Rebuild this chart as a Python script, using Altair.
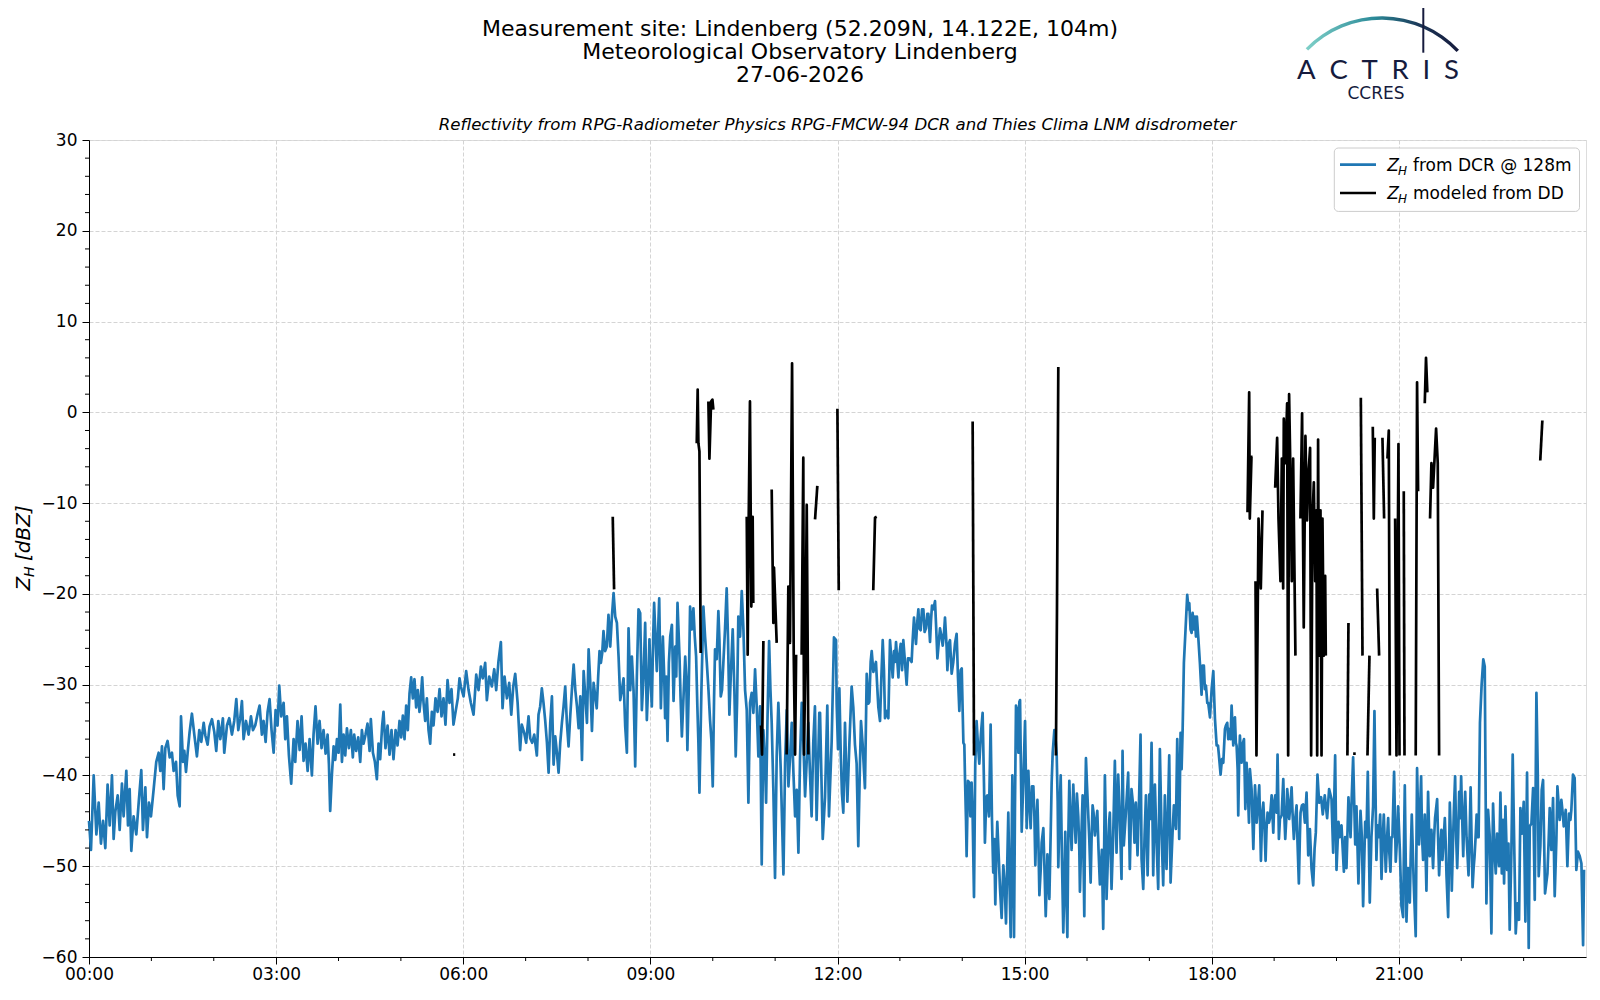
import altair as alt
import pandas as pd

# ---------------- data (minutes since 00:00, dBZ) ----------------
dcr_00_06 = [(0.0,-45.0),(1.9,-48.2),(4.5,-40.0),(7.1,-46.5),(9.3,-43.0),(11.5,-47.5),(13.5,-45.0),(15.7,-48.0),(17.9,-41.0),(19.9,-45.5),(22.1,-40.0),(23.7,-47.0),(25.3,-44.0),(27.6,-42.2),(29.5,-46.0),(31.7,-40.9),(33.3,-44.5),(35.9,-39.5),(37.5,-45.5),(39.1,-41.5),(40.7,-48.3),(42.9,-44.5),(45.5,-46.5),(47.8,-43.0),(50.3,-39.4),(51.9,-46.0),(54.2,-41.3),(55.8,-46.8),(57.7,-43.0),(59.6,-44.5),(62.2,-41.5),(64.7,-38.5),(67.0,-37.5),(68.6,-39.5),(70.2,-36.8),(71.8,-41.5),(73.4,-37.0),(75.6,-36.2),(77.6,-38.0),(79.8,-37.5),(81.4,-39.5),(83.7,-38.5),(85.3,-42.2),(87.2,-43.4),(88.5,-33.5),(90.4,-38.5),(91.7,-37.3),(93.3,-39.6),(94.9,-37.5),(96.8,-35.2),(99.0,-33.2),(101.3,-35.5),(103.8,-37.9),(106.1,-35.0),(108.0,-36.3),(110.3,-34.2),(111.9,-35.6),(114.1,-36.6),(116.0,-34.6),(118.3,-33.8),(120.5,-35.2),(122.4,-37.3),(124.4,-34.0),(126.3,-36.0),(128.8,-33.7),(130.1,-37.5),(132.7,-34.5),(134.9,-33.7),(137.5,-35.5),(139.7,-34.0),(141.7,-31.6),(143.6,-35.0),(145.5,-33.7),(147.1,-31.8),(148.7,-36.0),(151.0,-34.0),(153.5,-35.5),(155.8,-33.5),(157.7,-35.0),(159.9,-34.5),(162.2,-33.2),(164.1,-32.3),(166.3,-35.5),(167.9,-34.0),(169.9,-36.3),(171.8,-33.0),(173.7,-31.6),(175.6,-35.0),(177.6,-37.5),(179.5,-32.8),(181.4,-34.5),(183.0,-30.1),(184.9,-33.5),(187.2,-32.0),(188.8,-36.0),(190.4,-33.5),(192.3,-37.8),(194.5,-40.9),(196.8,-36.0),(198.4,-38.5),(200.6,-34.0),(202.6,-37.2),(204.5,-33.5),(206.4,-38.4),(208.3,-36.5),(210.3,-39.5),(212.2,-36.0),(214.4,-40.0),(216.0,-35.5),(217.9,-32.4),(219.9,-36.5),(221.8,-34.0),(223.7,-37.0),(225.6,-35.0),(227.6,-37.6),(229.5,-35.5),(230.8,-38.8),(232.0,-43.9),(233.6,-40.0),(235.3,-36.8),(236.9,-38.3),(238.5,-36.0),(240.1,-37.5),(241.7,-32.2),(243.3,-38.5),(244.9,-35.5),(246.5,-37.8),(248.1,-34.8),(250.0,-37.0),(251.9,-35.0),(253.8,-38.0),(255.1,-35.5),(257.0,-37.3),(259.0,-35.8),(260.9,-38.5),(262.5,-35.0),(264.1,-36.5),(266.0,-35.5),(267.9,-34.3),(269.9,-37.3),(271.1,-33.8),(273.1,-37.5),(275.0,-38.5),(276.9,-40.4),(278.5,-36.5),(280.1,-38.2),(282.0,-34.5),(283.3,-33.0),(285.2,-37.0),(287.2,-34.5),(289.1,-37.7),(291.0,-35.0),(292.9,-38.2),(294.9,-35.0),(296.8,-36.7),(298.7,-34.0),(300.3,-35.8),(301.9,-33.4),(303.5,-36.0),(305.1,-32.3),(306.7,-35.0),(308.3,-31.0),(309.9,-29.2),(311.5,-31.5),(313.1,-29.4),(314.7,-32.5),(316.3,-30.6),(317.9,-33.0),(319.2,-31.5),(320.5,-29.2),(321.8,-32.0),(323.4,-34.0),(325.0,-31.5),(326.6,-35.0),(328.2,-36.5),(329.8,-33.0),(331.4,-34.5),(333.3,-31.5),(335.3,-33.0),(337.2,-30.5),(339.1,-33.5),(341.0,-31.5),(342.9,-34.4),(344.9,-29.5),(346.8,-32.0),(348.7,-30.5),(350.6,-34.4),(352.6,-33.0),(354.8,-31.5),(356.4,-29.3)]

dcr_06_12 = [(357.7,-30.2),(360.3,-31.3),(362.8,-28.5),(365.1,-30.6),(367.3,-32.0),(369.9,-33.3),(372.5,-28.9),(374.7,-30.6),(377.0,-28.0),(378.8,-29.3),(381.1,-27.6),(382.7,-31.7),(385.0,-29.1),(387.5,-30.2),(389.8,-28.3),(391.7,-30.6),(393.9,-27.4),(396.2,-25.3),(397.8,-32.6),(399.7,-29.1),(402.0,-31.5),(404.2,-29.8),(406.2,-33.3),(408.1,-30.2),(410.0,-28.8),(412.3,-32.0),(414.7,-37.2),(416.3,-34.4),(418.6,-35.3),(420.5,-36.4),(422.8,-33.5),(424.4,-35.9),(426.3,-36.4),(428.3,-35.5),(430.8,-37.8),(432.4,-33.3),(434.0,-32.4),(435.6,-30.4),(437.2,-32.0),(438.8,-33.9),(440.5,-36.4),(442.1,-39.7),(443.7,-34.2),(445.3,-31.3),(446.9,-38.8),(448.5,-35.7),(450.1,-37.5),(451.7,-39.7),(453.3,-36.4),(454.9,-34.2),(456.5,-32.4),(458.1,-30.2),(459.7,-34.2),(461.3,-36.8),(462.9,-33.5),(464.5,-30.6),(466.2,-27.8),(467.8,-30.6),(469.4,-32.4),(471.0,-34.8),(472.6,-31.3),(474.2,-38.3),(475.8,-28.5),(477.4,-31.3),(479.0,-34.2),(480.6,-26.1),(482.2,-29.8),(483.8,-35.1),(485.4,-29.8),(487.0,-31.3),(488.4,-32.6),(489.8,-29.1),(491.1,-26.3),(492.4,-27.6),(493.7,-26.5),(494.9,-24.1),(496.5,-26.3),(498.1,-25.8),(499.7,-22.3),(501.4,-25.8),(503.0,-22.5),(504.6,-19.9),(506.2,-22.5),(507.8,-23.2),(509.4,-26.9),(511.0,-31.7),(512.6,-30.6),(514.2,-29.3),(515.8,-34.6),(517.4,-37.5),(519.0,-23.8),(520.6,-30.6),(522.2,-26.9),(523.8,-30.6),(525.4,-39.0),(527.0,-29.1),(528.6,-21.7),(530.2,-22.1),(531.8,-32.8),(533.4,-29.1),(535.0,-23.2),(536.6,-33.9),(538.2,-29.1),(539.1,-25.0),(540.4,-29.8),(541.4,-32.4),(542.7,-24.7),(543.6,-21.0),(544.9,-24.7),(546.2,-28.5),(547.5,-23.9),(548.5,-20.5),(550.1,-32.6),(552.0,-24.7),(553.3,-29.1),(554.2,-33.7),(555.2,-29.1),(556.5,-36.2),(557.8,-27.6),(559.1,-24.7),(560.7,-23.4),(562.3,-31.8),(563.9,-25.8),(564.9,-29.1),(566.1,-21.0),(568.1,-27.2),(569.0,-31.3),(570.3,-35.7),(571.9,-31.3),(573.5,-26.9),(574.5,-29.1),(575.6,-37.2),(576.9,-30.6),(578.2,-21.4),(579.8,-23.9),(581.4,-21.6),(582.7,-24.7),(584.0,-26.9),(585.2,-32.4),(586.2,-36.4),(587.2,-41.9),(589.1,-30.6),(591.0,-21.4),(592.6,-24.7),(594.3,-27.6),(595.9,-30.6),(597.4,-33.9),(598.7,-36.1),(600.0,-41.2),(601.3,-31.3),(602.2,-26.1),(603.8,-27.2),(605.4,-21.9),(606.4,-25.0),(607.7,-31.3),(608.9,-30.6),(610.2,-27.6),(611.8,-23.9),(613.4,-19.4),(614.7,-25.0),(616.0,-33.3),(617.3,-29.1),(619.2,-23.9),(620.8,-30.6),(622.1,-37.9),(623.4,-32.0),(624.6,-22.5),(626.3,-24.7),(627.9,-19.7),(629.5,-23.9),(631.1,-30.6),(632.7,-32.8),(634.3,-43.0),(635.9,-32.0),(637.5,-30.9),(639.1,-33.1),(640.7,-28.3),(642.3,-32.4),(643.9,-37.9),(645.5,-32.4),(647.1,-49.8),(648.7,-35.0),(650.3,-38.6),(651.3,-43.0),(652.6,-34.2),(654.2,-25.2),(655.5,-30.6),(656.7,-34.2),(658.3,-41.6),(659.9,-51.3),(661.5,-37.9),(663.1,-32.0),(664.1,-35.0),(665.4,-39.4),(666.7,-45.2),(668.0,-50.9),(669.6,-38.6),(671.2,-32.8),(672.8,-41.2),(674.4,-37.9),(676.0,-34.2),(677.6,-39.7),(679.2,-44.5),(680.8,-41.6),(682.4,-48.5),(684.0,-37.9),(685.6,-32.0),(687.2,-36.4),(688.8,-42.3),(690.3,-38.6),(691.9,-34.2),(693.5,-39.7),(695.1,-44.5),(696.7,-36.4),(698.3,-32.4),(699.9,-44.9),(701.5,-37.9),(702.5,-33.1)]

dcr_12_16 = [(703.2,-33.1),(705.8,-47.0),(708.0,-42.4),(710.2,-32.3),(711.8,-44.5),(714.4,-36.2),(716.6,-24.8),(718.6,-25.1),(719.2,-32.1),(720.5,-37.1),(721.8,-30.4),(723.1,-37.5),(724.3,-42.0),(725.6,-44.1),(727.2,-34.2),(728.2,-38.7),(729.5,-42.9),(731.4,-36.6),(733.6,-30.2),(735.2,-32.5),(736.8,-36.6),(738.4,-38.7),(740.0,-47.8),(741.6,-38.7),(742.6,-34.0),(744.2,-36.6),(745.5,-39.5),(746.4,-41.4),(748.1,-28.8),(749.7,-32.1),(750.6,-31.9),(751.9,-27.5),(752.9,-26.3),(754.5,-28.6),(755.8,-28.0),(757.0,-27.5),(758.3,-30.4),(759.3,-32.5),(760.9,-34.0),(762.2,-29.2),(763.5,-25.1),(764.7,-28.4),(765.7,-33.7),(767.3,-32.9),(768.9,-33.7),(769.9,-28.4),(770.5,-25.1),(771.8,-27.1),(773.1,-29.2),(774.4,-26.3),(775.3,-27.5),(776.3,-25.3),(777.6,-27.5),(778.6,-29.2),(779.5,-26.7),(780.8,-25.5),(782.1,-28.4),(783.3,-25.1),(784.9,-27.5),(786.5,-30.0),(787.8,-27.1),(789.1,-27.1),(791.3,-27.5),(792.3,-25.1),(793.6,-22.6),(794.5,-24.2),(795.5,-25.5),(796.8,-23.0),(797.8,-21.7),(798.7,-23.8),(800.0,-24.0),(801.3,-21.7),(802.6,-21.7),(803.8,-24.2),(805.1,-23.8),(806.4,-22.2),(807.4,-22.2),(809.0,-25.3),(809.9,-23.0),(810.9,-21.3),(812.2,-21.7),(813.8,-20.8),(814.8,-23.4),(816.1,-27.1),(817.3,-25.5),(818.6,-23.8),(819.9,-24.6),(821.2,-25.7),(822.5,-24.2),(823.4,-22.6),(825.0,-25.9),(825.7,-28.4),(827.0,-25.5),(828.2,-25.1),(829.8,-28.8),(831.4,-27.5),(833.0,-25.5),(834.6,-24.4),(835.9,-29.2),(837.2,-32.9),(838.5,-28.4),(839.5,-28.2),(840.4,-32.9),(841.1,-36.4),(842.0,-36.6),(842.7,-40.6),(843.6,-44.9),(844.2,-48.9),(845.5,-40.6),(846.8,-40.8),(847.8,-44.5),(849.0,-40.8),(850.0,-44.5),(851.3,-53.4),(852.5,-38.7),(853.8,-34.0),(855.1,-36.6),(856.4,-38.7),(858.0,-35.4),(859.6,-33.1),(860.9,-40.8),(861.8,-47.4),(863.1,-42.4),(864.1,-42.2),(865.7,-44.5),(867.3,-34.4),(868.6,-44.9),(869.8,-50.7),(870.8,-47.0),(871.8,-54.2),(872.7,-49.1),(873.7,-45.1),(875.0,-48.7),(876.3,-52.4),(877.9,-55.7),(879.5,-49.9),(880.8,-52.0),(882.1,-56.3),(883.4,-49.1),(884.3,-44.1),(885.3,-51.1),(886.6,-57.8),(888.2,-40.0),(889.8,-57.8),(890.7,-43.7),(891.7,-32.3),(893.0,-32.9),(894.0,-37.5),(894.9,-31.9),(895.6,-31.7),(897.2,-46.2),(898.8,-40.4),(900.4,-34.0),(902.0,-45.8),(903.6,-39.5),(904.6,-42.9),(905.8,-45.8),(907.1,-41.2),(908.4,-41.2),(909.4,-44.5),(910.3,-49.9),(911.3,-45.3),(912.3,-42.7),(913.2,-47.0),(914.2,-53.2),(915.5,-50.3),(916.4,-47.4),(918.0,-45.8),(919.3,-51.1),(920.3,-55.5),(921.2,-52.0),(921.9,-48.7),(922.8,-51.1),(923.8,-53.6),(925.1,-46.2),(926.0,-40.8),(927.0,-37.5),(928.6,-35.0),(929.9,-36.2),(930.8,-37.5),(931.8,-42.9),(932.4,-50.1),(933.4,-44.9),(934.7,-40.0),(935.9,-49.1),(937.2,-57.3),(938.2,-52.0),(939.1,-46.2),(940.1,-53.2),(941.1,-57.8),(942.0,-47.0),(943.0,-40.6),(944.0,-44.9),(945.2,-48.2),(946.8,-41.0),(947.8,-44.1),(949.1,-47.4),(950.3,-42.0),(951.6,-44.5),(952.6,-48.2),(953.2,-52.8),(954.5,-47.0),(955.8,-42.2),(956.4,-47.0),(957.4,-55.5),(958.3,-42.9),(959.0,-38.1),(959.9,-40.8),(960.9,-43.5),(962.2,-47.0),(963.5,-51.8),(964.4,-47.0),(965.4,-43.3),(966.3,-44.1),(967.6,-46.6),(968.6,-45.3),(969.9,-43.9),(971.1,-48.2),(972.4,-52.0),(973.4,-50.3),(974.3,-48.2),(975.6,-56.9),(976.6,-47.0),(977.2,-40.0),(978.2,-46.2),(978.8,-53.6),(980.1,-49.1),(981.4,-44.9)]

dcr_16_20 = [(982.0,-44.1),(983.6,-52.5),(985.2,-46.6),(986.8,-38.4),(988.4,-48.5),(990.0,-39.9),(991.6,-44.8),(993.2,-51.4),(994.2,-37.3),(995.4,-47.7),(997.4,-44.1),(999.6,-39.7),(1001.2,-50.3),(1002.8,-41.5),(1004.4,-43.3),(1005.7,-47.4),(1007.0,-43.0),(1008.6,-48.8),(1010.2,-42.1),(1011.5,-35.5),(1012.5,-49.2),(1014.1,-52.5),(1015.4,-46.6),(1016.7,-42.2),(1018.3,-51.0),(1019.9,-42.1),(1020.8,-44.8),(1022.1,-36.4),(1023.7,-51.0),(1025.3,-41.0),(1026.9,-47.4),(1028.5,-52.5),(1030.1,-37.1),(1031.7,-46.3),(1033.3,-52.1),(1034.9,-42.2),(1036.5,-50.3),(1038.1,-43.0),(1039.1,-37.8),(1040.4,-51.8),(1042.3,-46.3),(1043.6,-43.3),(1045.5,-45.9),(1046.8,-36.0),(1047.8,-41.1),(1048.7,-47.0),(1050.0,-35.3),(1051.0,-39.3),(1052.0,-34.9),(1053.2,-27.6),(1054.8,-23.9),(1056.4,-20.1),(1057.7,-21.7),(1058.4,-21.0),(1059.6,-23.9),(1060.6,-24.3),(1061.6,-22.1),(1062.8,-23.9),(1063.8,-22.5),(1064.8,-24.7),(1065.7,-22.5),(1067.0,-24.7),(1068.6,-27.6),(1070.2,-31.1),(1071.2,-27.9),(1072.4,-27.9),(1073.4,-30.5),(1074.4,-30.1),(1075.7,-32.0),(1076.6,-32.0),(1078.3,-33.6),(1079.9,-30.5),(1081.5,-28.5),(1082.4,-31.6),(1083.1,-33.8),(1084.7,-36.7),(1086.0,-36.7),(1086.9,-37.8),(1088.5,-39.9),(1089.8,-38.2),(1091.1,-38.6),(1092.7,-34.9),(1093.6,-34.5),(1094.9,-34.2),(1095.9,-36.0),(1096.8,-34.9),(1098.1,-36.0),(1099.1,-32.3),(1100.0,-34.9),(1100.7,-36.7),(1101.6,-33.8),(1102.3,-33.6),(1103.2,-36.4),(1103.9,-36.7),(1104.9,-39.3),(1105.5,-44.4),(1106.5,-37.5),(1107.1,-35.6),(1108.1,-37.8),(1108.7,-38.6),(1110.0,-36.4),(1111.0,-36.0),(1112.3,-43.7),(1113.5,-38.6),(1114.5,-41.1),(1115.8,-45.2),(1116.7,-39.3),(1118.3,-41.5),(1120.0,-48.1),(1121.6,-41.1),(1122.5,-43.0),(1123.2,-45.2),(1124.4,-43.3),(1125.7,-41.1),(1127.3,-49.4),(1128.6,-44.1),(1129.6,-43.0),(1130.8,-45.9),(1131.8,-49.4),(1132.7,-45.9),(1133.7,-44.1),(1135.0,-45.2),(1135.9,-44.8),(1137.6,-42.2),(1139.2,-46.3),(1140.1,-43.0),(1141.1,-42.2),(1142.4,-44.1),(1143.3,-37.7),(1144.6,-47.0),(1145.6,-44.8),(1147.2,-44.4),(1148.8,-40.4),(1149.8,-44.4),(1150.7,-47.0),(1152.0,-44.1),(1152.6,-41.5),(1153.6,-43.0),(1154.5,-44.8),(1155.8,-43.0),(1156.8,-41.3),(1157.7,-44.1),(1159.0,-47.0),(1160.3,-44.8),(1161.6,-43.3),(1162.5,-47.4),(1163.8,-51.9),(1164.8,-46.6),(1165.4,-44.1),(1166.7,-43.3),(1168.0,-43.2),(1169.6,-45.2),(1171.2,-41.9),(1172.8,-48.8),(1174.4,-45.9),(1176.0,-50.3),(1177.6,-52.1),(1178.9,-48.1),(1180.1,-46.3),(1181.7,-39.9),(1183.3,-43.0)]

dcr_20_24 = [(1185.2,-42.4),(1186.8,-44.3),(1188.7,-42.2),(1191.0,-44.7),(1192.9,-41.5),(1195.2,-42.6),(1196.8,-48.5),(1198.7,-37.8),(1200.0,-50.4),(1201.9,-45.1),(1203.2,-46.8),(1204.8,-45.5),(1207.1,-50.6),(1208.3,-46.8),(1209.6,-50.2),(1211.5,-42.4),(1213.5,-46.8),(1214.7,-42.2),(1216.0,-38.0),(1218.0,-47.6),(1219.2,-43.4),(1221.1,-51.9),(1223.1,-43.9),(1224.4,-46.8),(1225.6,-54.4),(1227.6,-45.1),(1228.8,-46.8),(1230.1,-39.6),(1232.0,-54.0),(1233.6,-46.8),(1235.2,-43.4),(1236.5,-32.9),(1238.4,-49.3),(1239.4,-45.5),(1240.7,-46.8),(1242.0,-44.3),(1243.3,-51.4),(1244.5,-46.8),(1245.5,-44.3),(1246.5,-47.6),(1247.4,-50.6),(1248.7,-46.8),(1249.7,-44.7),(1250.6,-48.1),(1251.9,-50.6),(1252.9,-46.8),(1253.8,-46.8),(1255.4,-39.6),(1257.0,-49.5),(1258.3,-46.8),(1259.3,-43.4),(1260.9,-48.1),(1262.5,-54.4),(1264.1,-55.6),(1265.0,-46.8),(1265.7,-41.1),(1267.3,-56.1),(1268.9,-50.2),(1270.5,-54.0),(1271.4,-48.9),(1272.4,-44.3),(1274.3,-51.9),(1276.2,-57.7),(1277.5,-39.2),(1278.5,-44.3),(1279.4,-47.6),(1281.4,-40.1),(1282.3,-46.8),(1283.3,-49.3),(1284.9,-44.3),(1286.5,-52.7),(1288.1,-41.8),(1289.7,-48.9),(1291.3,-46.0),(1292.9,-50.2),(1293.9,-46.8),(1294.8,-44.7),(1296.8,-42.6),(1297.7,-46.8),(1298.7,-51.0),(1300.0,-47.6),(1300.9,-46.0),(1301.9,-49.3),(1303.2,-46.8),(1304.2,-44.7),(1305.1,-47.6),(1305.8,-51.0),(1307.4,-55.6),(1309.0,-43.0),(1310.0,-46.8),(1310.9,-52.7),(1312.2,-46.8),(1312.9,-43.9),(1314.1,-40.1),(1315.1,-46.8),(1316.1,-50.2),(1317.0,-46.8),(1318.0,-41.8),(1319.0,-44.7),(1319.9,-40.1),(1320.9,-44.7),(1321.9,-48.9),(1322.8,-44.7),(1323.8,-41.8),(1325.1,-46.8),(1326.1,-48.9),(1327.0,-51.0),(1328.0,-46.8),(1329.0,-41.3),(1329.9,-46.8),(1330.9,-52.3),(1331.9,-50.2),(1332.8,-48.9),(1333.8,-46.8),(1334.8,-44.3),(1335.7,-46.8),(1336.7,-46.8),(1338.0,-34.2),(1339.6,-30.0),(1341.2,-27.2),(1342.6,-28.0),(1344.2,-54.1),(1345.8,-43.8),(1347.4,-46.7),(1349.0,-57.4),(1350.6,-43.1),(1352.2,-48.9),(1353.2,-50.8),(1354.5,-46.4),(1356.4,-50.0),(1357.7,-41.9),(1359.0,-50.8),(1360.2,-44.9),(1361.2,-51.9),(1362.5,-43.4),(1364.1,-50.4),(1365.4,-47.5),(1366.6,-57.0),(1368.2,-48.6),(1369.5,-37.7),(1371.1,-48.6),(1372.4,-57.4),(1374.0,-54.1),(1375.6,-55.9),(1376.9,-43.6),(1378.5,-46.4),(1380.1,-42.9),(1381.7,-56.1),(1383.3,-39.7),(1384.9,-59.0),(1385.9,-45.6),(1387.5,-45.3),(1389.1,-41.4),(1390.7,-53.7),(1392.3,-30.9),(1393.6,-39.7),(1394.5,-51.1),(1396.1,-47.8),(1397.4,-41.6),(1398.7,-40.5),(1400.6,-53.0),(1402.9,-50.8),(1404.1,-47.1),(1405.1,-43.6),(1406.7,-48.2),(1408.3,-42.5),(1409.9,-53.3),(1411.5,-47.1),(1412.5,-41.2),(1413.8,-43.4),(1414.7,-44.9),(1416.3,-42.7),(1417.9,-44.5),(1418.6,-45.6),(1419.5,-44.9),(1420.5,-43.8),(1422.1,-50.0),(1423.7,-44.2),(1425.0,-44.9),(1425.9,-43.8),(1427.5,-39.9),(1429.1,-40.3),(1430.7,-50.4),(1432.3,-48.4),(1434.0,-48.9),(1435.6,-49.7),(1437.2,-58.7),(1438.1,-50.4)]

# Disdrometer-modelled reflectivity: separate runs between data gaps
dd_segments = [
    [(350.2,-37.7),(352.3,-37.7)],
    [(503.8,-11.5),(505.1,-19.5)],
    [(584.6,-3.4),(585.5,2.5),(586.2,-3.4),(587.2,-4.3),(588.4,-26.5)],
    [(595.8,1.2),(596.8,-5.1),(598.4,1.2),(599.7,1.4),(600.6,0.3)],
    [(632.7,-11.5),(633.6,-26.7),(634.6,-11.5),(635.8,1.2),(637.1,-21.4),(638.4,-11.5),(639.0,-21.0)],
    [(646.4,-34.5),(647.4,-37.7),(648.7,-25.2)],
    [(656.7,-8.5),(658.3,-23.2),(658.9,-17.1),(661.5,-25.4)],
    [(671.1,-37.7),(672.7,-19.2),(674.3,-25.4),(676.3,5.4),(677.9,-26.7),(679.2,-37.7),(680.2,-26.7)],
    [(685.5,-26.7),(687.1,-5.0),(687.8,-37.7),(689.1,-26.7),(690.4,-10.2),(692.0,-37.7)],
    [(698.4,-11.8),(700.6,-8.1)],
    [(719.9,0.4),(721.2,-19.6)],
    [(754.4,-19.6),(756.1,-11.6),(757.7,-11.5)],
    [(850.0,-1.0),(851.3,-37.8)],
    [(930.1,-37.8),(931.1,-22.2),(932.4,5.0)],
    [(1114.4,-11.0),(1116.0,2.2),(1116.6,-11.7),(1118.2,-4.9),(1119.2,-4.9)],
    [(1122.1,-18.6),(1123.0,-37.8),(1125.0,-11.7),(1127.2,-19.4),(1128.8,-10.8)],
    [(1141.0,-8.3),(1142.9,-2.8),(1144.2,-11.7),(1146.1,-18.6),(1147.4,-5.1),(1148.7,-19.4),(1149.3,-0.7),(1150.9,-5.6),(1152.5,1.0),(1153.5,-37.8),(1154.4,2.0),(1155.7,-6.8),(1157.0,-18.6),(1158.3,-5.1),(1160.5,-26.8)],
    [(1165.3,-11.7),(1166.9,-0.1),(1168.5,-23.7),(1170.1,-2.6),(1171.7,-11.9),(1173.0,-6.8),(1174.6,-3.9),(1175.6,-37.8),(1176.9,-11.7),(1178.2,-7.7),(1179.5,-18.6),(1180.7,-10.8),(1181.4,-37.8),(1182.3,-3.0),(1183.3,-26.8),(1184.6,-10.8),(1185.6,-37.8),(1186.5,-11.7),(1187.8,-26.8),(1189.1,-18.0),(1189.7,-26.8)],
    [(1210.5,-37.8),(1211.5,-23.2)],
    [(1216.0,-37.6),(1218.5,-37.6)],
    [(1223.4,1.6),(1225.0,-26.8)],
    [(1229.8,-37.8),(1231.7,-26.8)],
    [(1234.9,-1.6),(1235.9,-11.7),(1236.8,-2.8)],
    [(1239.1,-19.4),(1241.0,-26.8)],
    [(1244.2,-2.8),(1245.8,-11.7)],
    [(1249.0,-5.1),(1250.3,-2.0),(1251.3,-37.8)],
    [(1256.4,-11.7),(1257.7,-37.8),(1259.6,-3.5),(1260.6,-37.8)],
    [(1264.7,-8.7),(1265.4,-37.8)],
    [(1276.2,-37.8),(1277.5,3.3),(1278.5,-8.7)],
    [(1284.9,1.0),(1286.1,6.0),(1287.4,2.2)],
    [(1290.0,-11.7),(1291.3,-5.6),(1292.9,-8.3),(1295.8,-1.8),(1297.4,-5.6),(1298.7,-37.8)],
    [(1396.0,-5.3),(1398.0,-0.9)],
]

x_major = [0, 180, 360, 540, 720, 900, 1080, 1260]
x_minor = [60, 120, 240, 300, 420, 480, 600, 660, 780, 840, 960, 1020, 1140, 1200, 1320, 1380]
y_major = [-60, -50, -40, -30, -20, -10, 0, 10, 20, 30]
y_minor = [v for v in range(-58, 30, 2) if v % 10 != 0]

title_lines = ["Measurement site: Lindenberg (52.209N, 14.122E, 104m)",
               "Meteorological Observatory Lindenberg",
               "27-06-2026"]
subtitle = "Reflectivity from RPG-Radiometer Physics RPG-FMCW-94 DCR and Thies Clima LNM disdrometer"

# ---------------- frames ----------------
dcr_all = dcr_00_06 + dcr_06_12 + dcr_12_16 + dcr_16_20 + dcr_20_24
dcr_df = pd.DataFrame(dcr_all, columns=["minute", "dbz"])
dd_rows = []
for i, seg in enumerate(dd_segments):
    for m, v in seg:
        dd_rows.append({"seg": i, "minute": m, "dbz": v})
dd_df = pd.DataFrame(dd_rows)
xminor_df = pd.DataFrame({"minute": x_minor})
yminor_df = pd.DataFrame({"dbz": y_minor})
one = pd.DataFrame({"k": [0]})

W, H = 1497, 817
FONT = "DejaVu Sans"
BLUE = "#1f77b4"
NAVY = "#161b3d"

x_scale = alt.Scale(domain=[0, 1440], nice=False, zero=False)
y_scale = alt.Scale(domain=[-60, 30], nice=False, zero=False)

grid_kw = dict(grid=True, gridColor="#d4d4d4", gridDash=[4, 2], gridWidth=1,
               tickSize=7, tickColor="black", tickWidth=1, domainColor="black",
               labelFont=FONT, labelFontSize=17, labelColor="black",
               labelFlush=False, labelOverlap=False, title=None)
x_axis = alt.Axis(values=x_major,
                  labelExpr="(datum.value < 600 ? '0' : '') + floor(datum.value / 60) + ':00'",
                  labelPadding=2, **grid_kw)
y_axis = alt.Axis(values=y_major, format="d", labelPadding=5, **grid_kw)

X = alt.X("minute:Q", scale=x_scale, axis=x_axis)
Y = alt.Y("dbz:Q", scale=y_scale, axis=y_axis)

blue = alt.Chart(dcr_df).mark_line(color=BLUE, strokeWidth=2.7, strokeJoin="round").encode(
    x=X, y=Y, order="minute:Q")
black = alt.Chart(dd_df).mark_line(color="black", strokeWidth=2.7, strokeJoin="round").encode(
    x=X, y=Y, detail="seg:N", order="minute:Q")

xminor = alt.Chart(xminor_df).mark_rule(color="black", strokeWidth=1).encode(
    x=alt.X("minute:Q", scale=x_scale, axis=x_axis), y=alt.value(H), y2=alt.value(H + 4))
yminor = alt.Chart(yminor_df).mark_rule(color="black", strokeWidth=1).encode(
    y=alt.Y("dbz:Q", scale=y_scale, axis=y_axis), x=alt.value(-4), x2=alt.value(0))

def txt(text, x, y, size=17, style="normal", align="left", baseline="alphabetic",
        angle=0, color="black", font=FONT):
    return alt.Chart(one).mark_text(text=text, font=font, fontSize=size, fontStyle=style,
                                    align=align, baseline=baseline, angle=angle,
                                    color=color).encode(x=alt.value(x), y=alt.value(y))

# titles
titles = [txt(t, 711, yy, size=22, align="center", baseline="middle")
          for t, yy in zip(title_lines, [-111.2, -88.4, -64.8])]
titles.append(txt(subtitle, W / 2, -14.6, size=16.6, style="italic", align="center", baseline="middle"))

# y-axis title  Z_H [dBZ]
ytitle = [
    txt("Z", -59.2, 450.6, size=20, style="italic", angle=270),
    txt("H", -54.7, 436.9, size=14, style="italic", angle=270),
    txt("[dBZ]", -59.2, 421.0, size=20, style="italic", angle=270),
]

# legend
leg_box = alt.Chart(one).mark_rect(fill="white", fillOpacity=0.8, stroke="#cccccc",
                                   strokeWidth=1, cornerRadius=4).encode(
    x=alt.value(1245.3), x2=alt.value(1490.5), y=alt.value(8), y2=alt.value(71.4))
leg_l1 = alt.Chart(one).mark_rule(color=BLUE, strokeWidth=2.7).encode(
    x=alt.value(1251), x2=alt.value(1287), y=alt.value(24.7))
leg_l2 = alt.Chart(one).mark_rule(color="black", strokeWidth=2.7).encode(
    x=alt.value(1251), x2=alt.value(1287), y=alt.value(53.0))
legend = [leg_box, leg_l1, leg_l2,
          txt("Z", 1298.3, 30.9, style="italic"),
          txt("H", 1309.0, 34.6, size=12, style="italic"),
          txt("from DCR @ 128m", 1324.0, 30.9),
          txt("Z", 1298.3, 59.2, style="italic"),
          txt("H", 1309.0, 62.9, size=12, style="italic"),
          txt("modeled from DD", 1324.0, 59.2)]

# ACTRIS logo
grad = alt.LinearGradient(gradient="linear",
                          stops=[alt.GradientStop(offset=0, color="#7fd0c8"),
                                 alt.GradientStop(offset=0.45, color="#2b8a98"),
                                 alt.GradientStop(offset=0.75, color="#1b3556"),
                                 alt.GradientStop(offset=1, color=NAVY)],
                          x1=0, x2=1, y1=0, y2=0)
arc = alt.Chart(one).mark_arc(fill=grad, stroke=None).encode(
    x=alt.value(1292.6), y=alt.value(-17.3),
    theta=alt.value(5.489), theta2=alt.value(7.098),
    radius=alt.value(106.4), radius2=alt.value(103.0))
mast = alt.Chart(one).mark_rule(color=NAVY, strokeWidth=2).encode(
    x=alt.value(1334.3), y=alt.value(-132), y2=alt.value(-87.3))
logo = [arc, mast,
        txt("A\u2002C\u2002T\u2002R\u2002I\u2002S", 1289, -61.5, size=27.5, align="center",
            color=NAVY, font="Lato"),
        txt("CCRES", 1287, -41, size=17, align="center", color=NAVY)]

chart = alt.layer(blue, black, xminor, yminor, *titles, *ytitle, *legend, *logo).properties(
    width=W, height=H,
    padding={"left": 81, "top": 132, "right": 6, "bottom": 35},
    autosize=alt.AutoSizeParams(type="none"),
).configure_view(stroke="black", strokeWidth=1).configure(font=FONT)

chart.save("out.html", embed_options={"renderer": "svg", "actions": False})
